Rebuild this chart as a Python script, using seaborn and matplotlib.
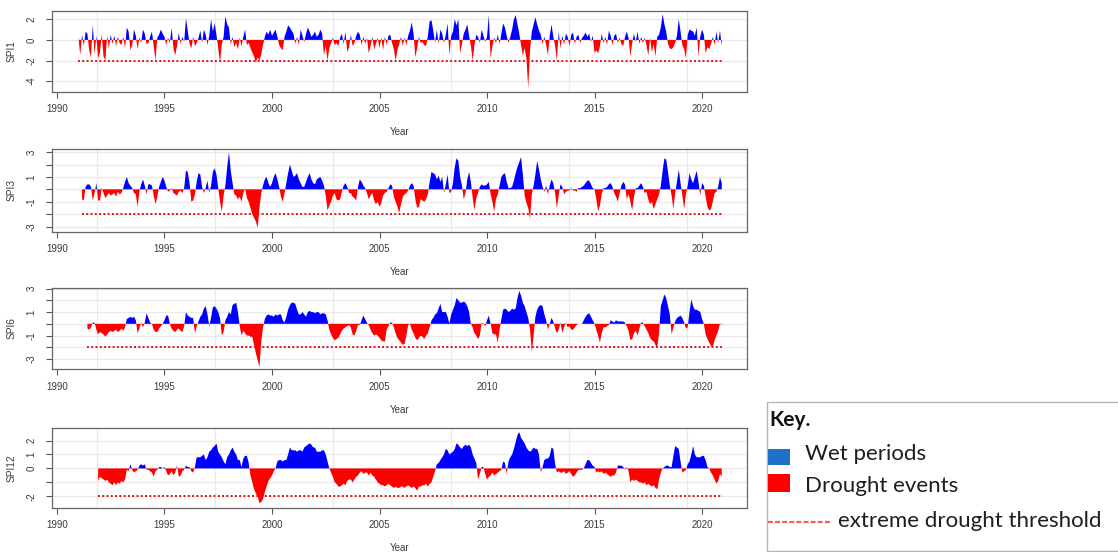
import numpy as np
import matplotlib
matplotlib.use("Agg")
import matplotlib.pyplot as plt
import seaborn as sns
from matplotlib.patches import Rectangle
from matplotlib.lines import Line2D

# ---------------- data (monthly SPI values) ----------------
START_YEAR = 1991
SPI1_START_MONTH = 0   # Jan 1991
SPI3_START_MONTH = 2   # Mar 1991
SPI6_START_MONTH = 5   # Jun 1991
SPI12_START_MONTH = 11 # Dec 1991
THRESHOLD = -2.0

spi1 = [
    0.3, -1.5, 0.5, -0.6, 0.8, 0.6, -1.0, -1.7, 1.5, -1.4, 0.4, -1.8,      # 1991
    -1.2, 0.5, -1.6, -2.0, 0.4, -0.8, 0.5, -0.4, 0.4, -0.6, 0.3, -0.3,     # 1992
    -0.5, 0.3, -0.8, 1.2, 0.8, -1.0, -0.5, 1.0, 0.4, -0.9, 0.2, -0.3,      # 1993
    1.0, 0.6, -0.4, -0.3, 0.3, 0.8, -0.6, -2.0, 0.2, 0.5, 1.0, 0.6,        # 1994
    0.3, -0.5, 0.2, -0.3, 1.2, -0.8, -1.5, -0.6, 0.7, -0.4, 0.3, -0.2,     # 1995
    2.1, 0.9, -0.4, -0.8, 0.3, -0.6, -0.3, 0.2, 0.9, -0.3, 1.0, 0.5,       # 1996
    -0.5, 0.4, 2.0, 0.8, 1.6, 0.5, -0.8, -2.2, -0.4, 0.3, 2.3, 1.5,        # 1997
    1.2, -0.5, 0.3, -0.7, -0.3, -0.9, 0.2, -0.6, 0.3, 1.0, -0.5, -0.3,     # 1998
    -0.8, -1.2, -1.6, -2.2, -1.7, -2.0, -1.4, -0.5, 0.3, 0.8, 0.5, 1.0,    # 1999
    0.4, 0.7, 1.0, 0.3, -0.5, -0.8, -1.0, 0.3, 0.8, 1.4, 1.2, 0.9,         # 2000
    0.6, -0.4, 0.3, -0.5, 1.0, 0.4, -0.2, 0.6, 1.2, 0.8, 0.3, 0.5,         # 2001
    0.8, 0.3, 0.5, 1.0, 0.6, -1.5, -0.6, -2.0, -0.8, -0.3, 0.2, -0.5,      # 2002
    -0.3, -0.6, 0.2, 0.6, -0.4, 0.8, -1.2, -0.7, 0.5, -0.6, -0.3, 0.4,     # 2003
    0.8, 0.5, -0.5, 0.3, -0.4, 0.2, -1.3, -0.6, 0.3, -0.9, -0.4, 0.2,      # 2004
    -0.8, 0.2, -1.0, 0.3, -0.5, 0.4, 0.5, -0.3, -0.9, -2.0, -1.0, -0.4,    # 2005
    0.3, -0.6, 0.2, -0.5, 0.4, 0.9, 1.7, 0.6, -1.7, -0.8, 0.3, -0.3,       # 2006
    -0.2, -0.5, -0.6, 0.4, 1.8, 1.9, 0.9, -0.3, 1.0, -0.4, 1.0, 0.6,       # 2007
    -0.3, 0.5, 1.6, -1.5, 0.4, 0.8, 2.0, 1.4, 2.0, -1.3, -0.4, 0.6,        # 2008
    1.0, 1.5, 0.4, -0.6, -2.0, -0.5, 0.5, 0.3, -0.3, 1.0, 0.4, -0.2,       # 2009
    0.3, 2.4, -1.8, -0.6, 0.2, -0.3, 0.5, -0.4, 0.6, 1.6, 1.2, 0.4,        # 2010
    -0.3, 0.3, 1.0, 2.0, 2.4, 1.5, 0.6, -0.5, -1.5, -0.8, -1.8, -4.7,      # 2011
    -1.0, 0.8, 1.5, 2.2, 1.5, 0.9, 0.5, -0.4, 0.3, -0.5, -1.5, 0.4,        # 2012
    1.5, 0.3, -0.6, -2.0, 0.8, -0.8, 0.4, -0.5, 0.6, 0.3, -0.6, 0.5,       # 2013
    0.7, -0.4, 0.3, 0.5, -0.3, 0.2, 0.4, 0.7, 0.3, 0.6, -0.2, 0.4,         # 2014
    -1.3, -1.0, -1.3, -0.6, 0.6, -0.3, 0.3, -0.5, 0.9, 0.4, -0.5, 0.4,     # 2015
    0.6, -0.3, 0.2, -0.4, -0.6, 0.3, 0.8, 0.2, -1.6, -0.3, 0.6, -0.2,      # 2016
    0.8, -0.4, 0.3, -0.3, 0.2, -0.5, -1.5, 0.2, -1.2, -0.4, -1.6, 0.3,     # 2017
    0.5, 1.2, 2.5, 1.5, 0.8, -0.4, -0.8, -0.9, -0.7, -0.3, 0.4, 2.0,       # 2018
    0.8, -0.5, -0.9, -1.8, 0.5, 1.0, 0.9, 0.8, 0.4, 1.2, -1.6, 0.3,        # 2019
    1.0, 0.5, -1.3, -0.7, -0.9, -0.4, 0.3, -0.5, 0.8, -0.3, 0.9, -0.6,     # 2020
]

spi3 = [
    -0.8, -0.9, 0.2, 0.4, 0.4, 0.2, -0.9, -0.3, 0.5, -0.9,                 # 1991 (Mar-Dec)
    -0.9, 0.1, -0.3, -0.7, -0.5, -0.3, -0.5, -0.4, -0.3, -0.6, -0.2, -0.4, # 1992
    -0.3, 0.1, 0.6, 1.0, 0.5, 0.3, 0.1, -0.3, -0.4, -1.4, -0.2, 0.4,       # 1993
    0.8, 0.3, -0.4, 0.4, 0.4, 0.3, -0.5, -1.2, -0.6, 0.2, 0.6, 1.0,        # 1994
    0.7, 0.2, -0.2, -0.1, 0.1, -0.3, -0.4, -0.5, -0.2, -0.1, -0.3, 0.1,    # 1995
    1.5, 1.4, 0.5, -1.0, -0.9, -0.4, 0.6, 1.3, 1.2, 0.2, -0.3, 0.1,        # 1996
    0.7, -0.3, 0.3, 1.4, 1.7, 1.2, 0.1, -1.0, -1.8, -0.5, 0.3, 1.8,        # 1997
    3.0, 1.5, 0.5, -0.4, -0.5, -0.8, -0.6, -1.0, -0.3, 0.1, -0.7, -1.0,    # 1998
    -1.5, -2.0, -2.3, -2.6, -3.1, -1.5, -0.3, 0.3, 0.8, 1.0, 0.5, 0.2,     # 1999
    0.5, 1.0, 1.3, 0.8, 0.2, -0.6, -1.0, -0.3, 0.5, 1.3, 2.0, 1.5,         # 2000
    1.0, 1.1, 1.3, 0.8, 0.5, 0.2, 0.2, 0.6, 1.0, 1.3, 0.8, 0.5,            # 2001
    0.4, 0.8, 0.9, 1.0, 0.7, 0.3, -0.5, -1.7, -1.3, -1.0, -0.5, -0.3,      # 2002
    -0.8, -0.9, -0.8, -0.2, 0.3, 0.5, 0.2, -0.3, -0.3, -0.6, -0.7, -0.9,   # 2003
    0.2, 0.8, 0.6, 0.3, 0.1, -0.3, -0.8, -0.5, -0.3, -0.9, -1.2, -1.0,     # 2004
    -1.4, -1.1, -0.5, -0.3, -0.2, 0.1, 0.4, 0.3, -0.6, -1.0, -1.4, -1.9,   # 2005
    -1.2, -0.6, -0.4, -0.3, -0.1, 0.3, 0.5, 0.3, -0.8, -1.5, -1.4, -0.8,   # 2006
    -0.9, -1.0, -0.8, -0.4, 0.6, 1.4, 1.3, 1.2, 0.8, 1.1, 0.6, 1.0,        # 2007
    -0.3, 0.4, 1.2, -0.3, -0.2, 0.5, 1.8, 2.5, 2.3, 1.0, 0.3, -0.8,        # 2008
    -0.3, 0.8, 1.4, 0.6, -0.7, -1.7, -0.7, -0.3, 0.2, 0.4, 0.3, 0.3,       # 2009
    0.4, 0.6, -0.4, -1.0, -1.8, -0.8, -0.4, 0.3, 1.0, 1.2, 1.3, 0.6,       # 2010
    0.1, 0.1, 0.2, 0.7, 1.3, 1.8, 2.2, 2.6, 1.2, -0.5, -1.1, -1.5,         # 2011
    -2.4, -0.4, 0.3, 1.2, 2.3, 1.6, 0.8, 0.2, -0.2, 0.3, -0.4, 0.3,        # 2012
    0.8, 0.5, -0.3, -1.5, -0.5, 0.4, 0.2, -0.4, -0.2, -0.1, -0.1, 0.1,     # 2013
    -0.1, -0.1, -0.2, 0.1, 0.1, 0.2, 0.3, 0.5, 0.7, 0.7, 0.4, 0.1,         # 2014
    0.0, -0.8, -1.8, -1.3, -0.4, 0.1, 0.1, 0.2, 0.4, 0.5, 0.2, -0.3,       # 2015
    -0.6, -1.0, -0.3, 0.3, 0.6, 0.4, -0.8, -0.4, -1.0, -1.7, -0.6, 0.1,    # 2016
    0.1, 0.3, 0.5, 0.2, -0.3, -0.2, -0.8, -1.2, -1.0, -1.6, -1.2, -0.8,    # 2017
    -0.4, 0.3, 1.5, 2.5, 2.4, 1.4, 0.3, -0.5, -1.6, -0.3, 0.6, 1.6,        # 2018
    0.5, -0.5, -1.6, -0.4, 0.3, 1.3, 0.8, 0.5, 1.0, 1.5, 0.6, -0.5,        # 2019
    0.5, 0.3, -0.6, -1.4, -1.7, -1.6, -1.0, -0.3, -0.2, 0.2, 1.0, 0.5,     # 2020
]

spi6 = [
    -0.4, -0.5, -0.3, 0.1, 0.1, -0.5, -0.9,                                # 1991 (Jun-Dec)
    -0.7, -0.8, -0.9, -1.1, -0.9, -0.7, -0.6, -0.7, -0.6, -0.5, -0.7, -0.6, # 1992
    -0.4, -0.6, -0.3, 0.4, 0.5, 0.6, 0.5, 0.6, 0.3, -0.8, -0.4, 0.1,       # 1993
    -0.3, 0.1, 0.9, 0.5, 0.1, 0.0, -0.5, -0.7, -0.7, -0.4, -0.2, 0.0,      # 1994
    0.3, 0.7, 0.7, 0.0, -0.4, -0.6, -0.7, -0.5, -0.4, -0.6, -0.7, -0.2,    # 1995
    1.0, 0.7, 0.6, 0.5, 0.5, -0.8, -0.2, 0.2, 0.6, 0.8, 1.3, 1.5,          # 1996
    0.8, -0.2, 0.5, 1.4, 1.5, 1.3, 1.0, 0.5, -1.0, -0.7, 0.3, 0.6,         # 1997
    1.0, 0.8, 1.6, 1.7, 1.8, 1.0, -0.2, -1.0, -0.6, -0.8, -1.0, -1.0,      # 1998
    -1.1, -1.1, -1.8, -2.5, -3.1, -3.7, -1.5, -0.3, 0.4, 0.7, 0.8, 0.7,    # 1999
    0.7, 0.6, 0.8, 0.7, 0.8, 0.8, 0.3, 0.1, 0.6, 1.2, 1.6, 1.8,            # 2000
    1.8, 1.7, 1.2, 0.8, 0.8, 1.0, 0.8, 0.6, 1.0, 1.1, 1.0, 1.0,            # 2001
    0.9, 1.0, 1.0, 0.8, 0.9, 0.9, 0.8, 0.3, -0.5, -0.9, -1.2, -1.4,        # 2002
    -1.3, -1.2, -0.9, -0.6, -0.4, -0.3, -0.2, -0.1, -0.3, -0.9, -1.0, -0.6, # 2003
    -0.1, -0.1, 0.3, 0.7, 0.4, 0.1, -0.1, -0.5, -0.8, -1.0, -0.9, -1.0,    # 2004
    -1.2, -1.4, -1.5, -1.5, -0.5, -0.2, 0.1, 0.1, -0.3, -0.8, -1.2, -1.4,  # 2005
    -1.6, -1.8, -1.7, -1.0, -0.1, 0.0, -0.5, -0.8, -1.2, -1.4, -1.2, -1.0, # 2006
    -1.1, -1.3, -1.0, -0.8, -0.3, 0.3, 0.5, 0.8, 0.9, 1.3, 1.7, 1.0,       # 2007
    1.0, 1.0, 0.6, 0.0, 0.8, 1.2, 1.6, 2.2, 2.0, 1.8, 1.8, 1.9,            # 2008
    1.8, 1.5, 1.0, 0.0, -0.3, -0.8, -1.0, -1.3, -1.0, 0.1, 0.0, -0.2,      # 2009
    0.3, 0.7, 0.0, -0.8, -0.9, -0.9, -1.6, -0.5, 0.4, 1.2, 1.3, 1.2,       # 2010
    1.0, 1.1, 1.3, 1.2, 1.3, 2.2, 2.8, 2.4, 1.8, 1.5, 1.0, 0.5,            # 2011
    -0.5, -2.4, -1.0, 0.6, 1.2, 1.5, 1.6, 1.5, 0.8, 0.3, -0.5, 0.0,        # 2012
    0.5, 0.2, -0.4, -0.8, -0.5, 0.1, -0.8, -0.3, 0.1, -0.3, -0.2, -0.5,    # 2013
    -0.5, -0.3, -0.1, 0.0, 0.0, 0.0, 0.3, 0.6, 0.8, 0.9, 0.6, 0.3,         # 2014
    0.0, -0.5, -1.0, -1.6, -0.8, -0.3, -0.3, -0.2, -0.1, 0.3, 0.2, 0.1,    # 2015
    0.3, 0.2, 0.2, 0.2, 0.2, 0.1, -0.2, -0.6, -1.4, -1.3, -0.8, -0.6,      # 2016
    -1.0, -0.4, 0.1, 0.1, -0.2, -0.5, -0.8, -1.2, -1.4, -1.5, -1.8, -2.0,  # 2017
    -0.8, 1.5, 2.0, 2.5, 2.2, 1.5, 0.8, -0.9, -0.3, 0.2, 0.5, 0.6,         # 2018
    0.7, 0.5, 0.1, -0.4, -0.3, 1.0, 2.1, 1.5, 1.2, 1.2, 1.1, 1.0,          # 2019
    0.4, 0.0, -0.9, -1.3, -1.6, -1.9, -2.0, -1.4, -1.0, -0.6, 0.0, -0.1,   # 2020
]

spi12 = [
    -0.9,                                                                  # 1991 (Dec)
    -0.6, -0.7, -0.8, -0.9, -0.8, -1.0, -1.1, -1.2, -1.0, -1.2, -1.0, -1.1, # 1992
    -0.9, -1.0, -0.8, -0.1, -0.2, 0.3, -0.1, -0.3, -0.2, -0.1, 0.2, 0.3,   # 1993
    0.2, 0.3, -0.1, -0.1, -0.2, -0.3, -0.6, -0.2, -0.1, 0.1, 0.1, 0.0,     # 1994
    0.1, -0.2, -0.5, -0.4, -0.2, -0.5, -0.3, 0.2, -0.6, -0.5, -0.2, -0.1,  # 1995
    0.2, 0.1, 0.1, -0.2, -0.3, 0.1, 0.8, 0.8, 0.8, 0.9, 1.0, 0.6,          # 1996
    0.8, 1.2, 1.3, 1.5, 1.6, 1.8, 1.2, 1.0, 0.8, 0.5, 0.3, 0.8,            # 1997
    1.0, 1.3, 1.5, 1.2, 1.0, 0.6, 0.6, 0.1, 0.7, 0.9, 0.9, 0.4,            # 1998
    -0.5, -1.0, -1.5, -1.8, -2.0, -2.5, -2.4, -2.2, -1.7, -1.3, -0.9, -0.7, # 1999
    -0.5, -0.2, 0.0, 0.5, 0.6, 0.6, 0.5, 0.6, 0.6, 1.0, 1.5, 1.3,          # 2000
    1.3, 1.3, 1.2, 1.3, 1.3, 1.2, 1.5, 1.6, 1.7, 1.8, 1.7, 1.5,            # 2001
    1.5, 1.2, 1.2, 1.2, 1.3, 1.3, 1.0, 0.5, 0.0, -0.3, -0.6, -1.0,         # 2002
    -1.1, -1.3, -1.3, -1.2, -1.1, -1.2, -0.9, -0.8, -0.8, -1.0, -0.8, -0.6, # 2003
    -0.5, -0.3, -0.2, -0.4, -0.3, -0.3, -0.5, -0.3, -0.5, -0.6, -0.8, -1.0, # 2004
    -1.1, -1.2, -1.2, -1.3, -1.2, -1.1, -1.2, -1.3, -1.4, -1.3, -1.4, -1.4, # 2005
    -1.3, -1.3, -1.4, -1.3, -1.2, -1.3, -1.4, -1.3, -1.4, -1.6, -1.3, -1.3, # 2006
    -1.2, -1.2, -1.1, -1.3, -1.1, -1.0, -0.6, -0.2, 0.3, 0.4, 0.6, 0.8,    # 2007
    1.0, 1.4, 1.3, 1.0, 1.1, 1.2, 1.4, 1.8, 1.7, 1.5, 1.4, 1.6,            # 2008
    1.7, 1.6, 1.7, 1.5, 1.0, 0.7, 0.4, -0.8, -0.4, 0.1, 0.1, -0.4,         # 2009
    -0.8, -0.6, -0.5, -0.3, -0.5, -0.4, -0.3, -0.2, -0.1, 0.5, 0.4, -0.4,  # 2010
    0.5, 0.8, 1.0, 1.4, 1.9, 2.4, 2.6, 2.2, 2.0, 1.8, 1.5, 1.3,            # 2011
    1.2, 1.3, 1.5, 1.4, 1.4, 1.0, -0.3, 0.1, 0.6, 0.7, 0.7, 0.9,           # 2012
    1.5, 1.4, 0.3, -0.3, -0.2, -0.3, -0.3, -0.2, -0.4, -0.3, -0.2, -0.4,   # 2013
    -0.6, -0.5, -0.3, -0.1, -0.1, -0.1, 0.0, 0.3, 0.6, 0.6, 0.4, 0.2,      # 2014
    0.1, -0.3, -0.2, -0.3, -0.2, -0.4, -0.3, -0.4, -0.5, -0.6, -0.5, -0.5, # 2015
    -0.3, 0.2, 0.2, 0.2, 0.1, -0.1, 0.1, -0.2, -1.0, -0.8, -0.9, -0.8,     # 2016
    -0.9, -1.0, -1.0, -1.1, -1.0, -1.2, -1.1, -1.2, -1.3, -1.2, -1.4, -1.5, # 2017
    -0.8, -0.3, 0.0, 0.1, 0.2, 0.2, 0.1, 0.1, 0.9, 1.6, 1.5, 1.4,          # 2018
    0.5, -0.3, -0.2, -0.1, 0.3, 0.5, 1.0, 1.6, 1.0, 0.8, 0.8, 0.8,         # 2019
    0.9, 0.9, 0.6, 0.1, 0.0, -0.3, -0.5, -0.8, -1.1, -0.9, -0.4, -0.6,     # 2020
]

PANEL_NAMES = ["SPI1", "SPI3", "SPI6", "SPI12"]
XTICKS = [1990, 1995, 2000, 2005, 2010, 2015, 2020]
KEY_TITLE = "Key."
KEY_LABELS = ["Wet periods", "Drought events", "extreme drought threshold"]

# ---------------- styling / layout ----------------
sns.set_theme(style="white")
plt.rcParams['font.family'] = ['Liberation Sans', 'DejaVu Sans']
plt.rcParams['axes.unicode_minus'] = False

W, H = 1118, 552
fig = plt.figure(figsize=(W / 100, H / 100), dpi=100)
fig.patch.set_facecolor("white")


def rect(l, t, r, b):
    return [l / W, 1 - b / H, (r - l) / W, (b - t) / H]


WET = "#0000ff"
DRY = "#ff0000"
GRID = "#e9e9e9"
GRID_X = [1991.85, 1997.33, 2002.82, 2008.31, 2013.8, 2019.29]

panels = [
    dict(name=PANEL_NAMES[0], data=spi1, start=SPI1_START_MONTH, box=(52, 11, 747, 92),
         ylim=(-5.05, 2.8), ticks=[-4, -2, 0, 2], labels=["-4", "-2", "0", "2"], year_y=132),
    dict(name=PANEL_NAMES[1], data=spi3, start=SPI3_START_MONTH, box=(52, 149, 747, 232),
         ylim=(-3.44, 3.25), ticks=[-3, -2, -1, 0, 1, 2, 3],
         labels=["-3", "", "-1", "", "1", "", "3"], year_y=272),
    dict(name=PANEL_NAMES[2], data=spi6, start=SPI6_START_MONTH, box=(52, 288, 747, 369),
         ylim=(-3.85, 3.05), ticks=[-3, -2, -1, 0, 1, 2, 3],
         labels=["-3", "", "-1", "", "1", "", "3"], year_y=410),
    dict(name=PANEL_NAMES[3], data=spi12, start=SPI12_START_MONTH, box=(52, 428, 747, 508),
         ylim=(-2.84, 2.9), ticks=[-2, -1, 0, 1, 2],
         labels=["-2", "", "0", "1", "2"], year_y=548),
]

for p in panels:
    l, t, r, b = p["box"]
    ax = fig.add_axes(rect(l, t, r, b))
    vals = np.array(p["data"], dtype=float)
    tt = START_YEAR + (p["start"] + np.arange(len(vals))) / 12.0

    # background grid
    for gx in GRID_X:
        ax.axvline(gx, color=GRID, lw=0.9, zorder=0)
    for gy in p["ticks"]:
        ax.axhline(gy, color=GRID, lw=0.9, zorder=0)

    ax.fill_between(tt, 0, vals, where=vals >= 0, interpolate=True,
                    color=WET, lw=0, zorder=2)
    ax.fill_between(tt, 0, vals, where=vals <= 0, interpolate=True,
                    color=DRY, lw=0, zorder=2)
    sns.lineplot(x=[tt[0], tt[-1]], y=[THRESHOLD, THRESHOLD], ax=ax,
                 color="#e0101a", lw=1.4, linestyle=(0, (1, 1.2)), zorder=3)

    ax.set_xlim(1989.77, 2022.09)
    ax.set_ylim(*p["ylim"])
    ax.set_xticks(XTICKS)
    ax.set_xticklabels([str(x) for x in XTICKS])
    ax.set_yticks(p["ticks"])
    ax.set_yticklabels(p["labels"], rotation=90, va="center")
    ax.tick_params(axis="both", which="both", direction="out", length=4, width=0.8,
                   color="#555555", labelsize=7, labelcolor="#3a3a3a",
                   bottom=True, left=True)
    ax.tick_params(axis="x", pad=5)
    ax.tick_params(axis="y", pad=7)
    for s in ax.spines.values():
        s.set_color("#666666")
        s.set_linewidth(0.9)
    ax.set_xlabel("")
    ax.set_ylabel("")

    fig.text(12 / W, 1 - ((t + b) / 2) / H, p["name"], rotation=90,
             ha="center", va="center", fontsize=7.3, color="#3a3a3a")
    fig.text(400 / W, 1 - p["year_y"] / H, "Year", ha="center", va="center",
             fontsize=7, color="#3a3a3a")

# ---------------- key box ----------------
fig.patches.append(Rectangle((767 / W, 1 - 551 / H), (1125 - 767) / W, (551 - 402) / H,
                             transform=fig.transFigure, facecolor="white",
                             edgecolor="#b5b5b5", lw=1.0, zorder=5))
kf = ["Lato", "DejaVu Sans"]
fig.text(769 / W, 1 - 420 / H, KEY_TITLE, fontsize=15, fontweight="bold",
         family=kf, ha="left", va="center", color="#111111", zorder=6)
fig.patches.append(Rectangle((768 / W, 1 - 465 / H), 22 / W, 16 / H,
                             transform=fig.transFigure, facecolor="#1f70c8",
                             edgecolor="none", zorder=6))
fig.text(805 / W, 1 - 454 / H, KEY_LABELS[0], fontsize=16, family=kf,
         ha="left", va="center", color="#1e1e1e", zorder=6)
fig.patches.append(Rectangle((768 / W, 1 - 492 / H), 22 / W, 18 / H,
                             transform=fig.transFigure, facecolor="#ff0000",
                             edgecolor="none", zorder=6))
fig.text(805 / W, 1 - 486 / H, KEY_LABELS[1], fontsize=16, family=kf,
         ha="left", va="center", color="#1e1e1e", zorder=6)
fig.lines.append(Line2D([768 / W, 830 / W], [1 - 522 / H, 1 - 522 / H],
                        transform=fig.transFigure, color="#ff5a5a", lw=1.6,
                        linestyle=(0, (2.2, 1)), zorder=6))
fig.text(838 / W, 1 - 521 / H, KEY_LABELS[2], fontsize=16, family=kf,
         ha="left", va="center", color="#1e1e1e", zorder=6)

fig.savefig("out.png", dpi=100, facecolor="white")
